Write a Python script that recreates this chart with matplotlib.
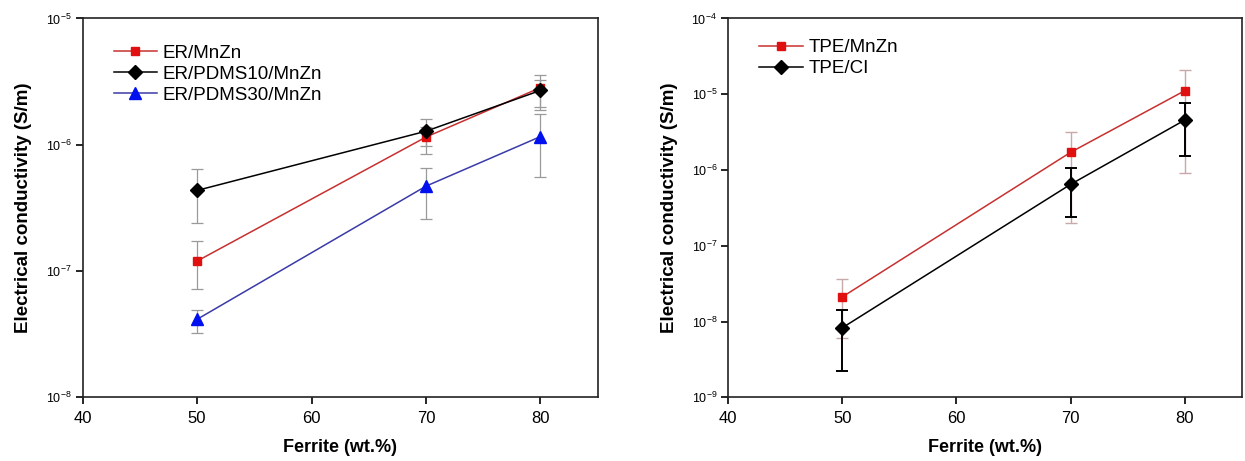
import matplotlib
matplotlib.use("Agg")
import matplotlib.pyplot as plt
import numpy as np

plt.rcParams['font.family'] = ['Liberation Sans', 'DejaVu Sans']
plt.rcParams['mathtext.fontset'] = 'custom'
plt.rcParams['mathtext.rm'] = 'Liberation Sans'
plt.rcParams['mathtext.it'] = 'Liberation Sans:italic'
plt.rcParams['mathtext.bf'] = 'Liberation Sans:bold'

# ---- data: left panel ----
ferrite_left = [50, 70, 80]
er_mnzn = [1.2e-7, 1.15e-6, 2.83e-6]
er_mnzn_lo = [7.2e-8, 0.85e-6, 1.98e-6]
er_mnzn_hi = [1.72e-7, 1.38e-6, 3.56e-6]
er_pdms10 = [4.35e-7, 1.28e-6, 2.69e-6]
er_pdms10_lo = [2.4e-7, 0.97e-6, 1.87e-6]
er_pdms10_hi = [6.4e-7, 1.6e-6, 3.23e-6]
er_pdms30 = [4.15e-8, 4.7e-7, 1.16e-6]
er_pdms30_lo = [3.23e-8, 2.6e-7, 5.6e-7]
er_pdms30_hi = [4.95e-8, 6.5e-7, 1.76e-6]

# ---- data: right panel ----
ferrite_right = [50, 70, 80]
tpe_mnzn = [2.12e-8, 1.71e-6, 1.11e-5]
tpe_mnzn_lo = [6.0e-9, 1.98e-7, 9.2e-7]
tpe_mnzn_hi = [3.67e-8, 3.19e-6, 2.08e-5]
tpe_ci = [8.3e-9, 6.46e-7, 4.55e-6]
tpe_ci_lo = [2.22e-9, 2.41e-7, 1.54e-6]
tpe_ci_hi = [1.43e-8, 1.05e-6, 7.57e-6]

xticks = [40, 50, 60, 70, 80]
xlabel = 'Ferrite (wt.%)'
ylabel = 'Electrical conductivity (S/m)'

fig = plt.figure(figsize=(12.45, 4.61), dpi=100)
axL = fig.add_axes([0.0664, 0.138, 0.4136, 0.822])
axR = fig.add_axes([0.585, 0.138, 0.4123, 0.822])


def yerr(v, lo, hi):
    v = np.array(v); lo = np.array(lo); hi = np.array(hi)
    return [v - lo, hi - v]


def draw(ax, x, y, lo, hi, color, lcolor, marker, ms, label, ecolor, elw):
    ax.errorbar(x, y, yerr=yerr(y, lo, hi), fmt='none', ecolor=ecolor,
                elinewidth=elw, capsize=4, capthick=elw, zorder=2)
    ax.plot(x, y, color=lcolor, lw=1.1, marker=marker, ms=ms, mfc=color,
            mec=color, label=label, zorder=3)


grey = '#9a9a9a'
draw(axL, ferrite_left, er_mnzn, er_mnzn_lo, er_mnzn_hi, '#e01010', '#c83030', 's', 6.2, 'ER/MnZn', grey, 0.9)
draw(axL, ferrite_left, er_pdms10, er_pdms10_lo, er_pdms10_hi, 'black', 'black', 'D', 7, 'ER/PDMS10/MnZn', grey, 0.9)
draw(axL, ferrite_left, er_pdms30, er_pdms30_lo, er_pdms30_hi, '#0010ee', '#3a3aa8', '^', 8, 'ER/PDMS30/MnZn', grey, 0.9)

draw(axR, ferrite_right, tpe_mnzn, tpe_mnzn_lo, tpe_mnzn_hi, '#e01010', '#c83030', 's', 6.2, 'TPE/MnZn', '#c8a8a8', 1.0)
draw(axR, ferrite_right, tpe_ci, tpe_ci_lo, tpe_ci_hi, 'black', 'black', 'D', 7, 'TPE/CI', 'black', 1.4)

for ax, ylim, anchor in ((axL, (1e-8, 1e-5), (0.035, 0.965)),
                         (axR, (1e-9, 1e-4), (0.035, 0.98))):
    ax.set_yscale('log')
    ax.set_ylim(*ylim)
    ax.set_xlim(40, 85)
    ax.set_xticks(xticks)
    ax.minorticks_off()
    ax.yaxis.set_minor_locator(matplotlib.ticker.NullLocator())
    ax.tick_params(axis='both', direction='out', length=5, width=1.2, top=False, right=False)
    ax.tick_params(axis='x', labelsize=12, pad=5)
    ax.tick_params(axis='y', labelsize=9, pad=3)
    for s in ax.spines.values():
        s.set_linewidth(1.2)
        s.set_color('#222222')
    ax.set_xlabel(xlabel, fontsize=13, fontweight='bold', labelpad=9)
    ax.set_ylabel(ylabel, fontsize=13.5, fontweight='bold', labelpad=10)
    ax.legend(loc='upper left', frameon=False, fontsize=13.5, handlelength=2.3,
              handletextpad=0.3, labelspacing=0.2, borderaxespad=0.3,
              bbox_to_anchor=anchor)

fig.savefig('out.png', dpi=100)
